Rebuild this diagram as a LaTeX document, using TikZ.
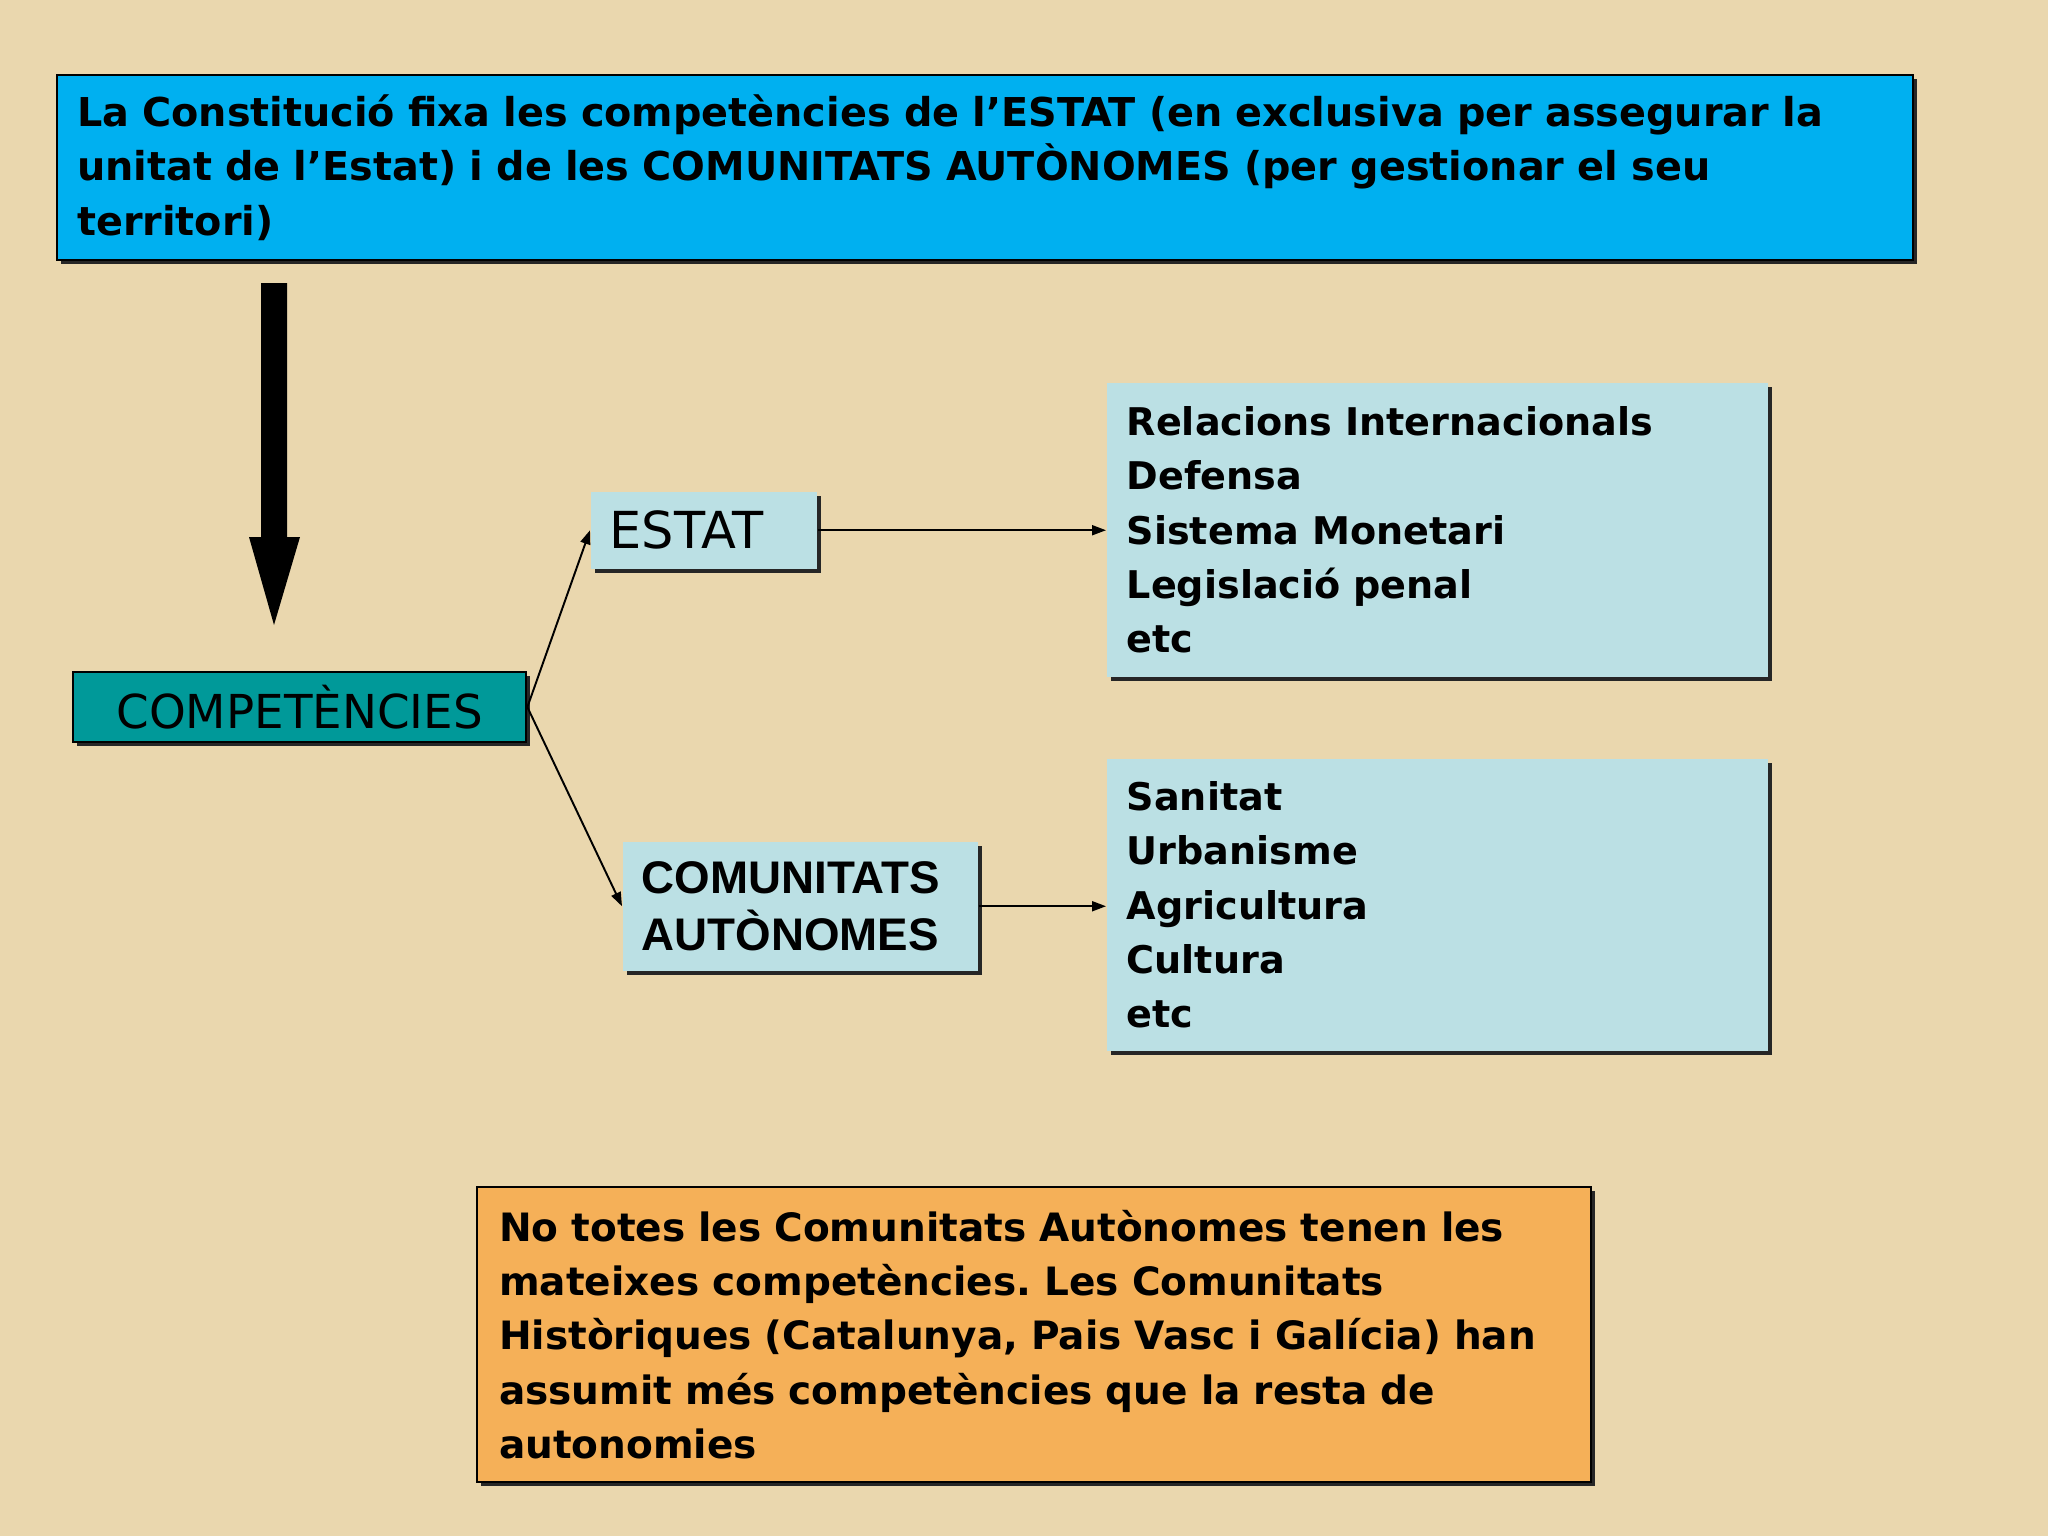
\documentclass[tikz,border=0pt]{standalone}
\usepackage{fontspec}
\setmainfont{DejaVu Sans}
\newfontfamily\arialfont{Liberation Sans}
\usetikzlibrary{arrows.meta,shadows}
\frenchspacing
\definecolor{bg}{RGB}{234,215,174}
\definecolor{topblue}{RGB}{0,176,240}
\definecolor{teal}{RGB}{0,153,153}
\definecolor{lblue}{RGB}{187,224,228}
\definecolor{orangebox}{RGB}{245,176,88}
\tikzset{
  shadowed/.style={drop shadow={shadow xshift=0.04cm, shadow yshift=-0.04cm, fill=black!85, opacity=1}},
  topbox/.style={shadowed, draw=black, line width=0.6pt, fill=topblue, anchor=north west,
    inner xsep=0.2cm, inner ysep=0pt, align=left,
    font=\bfseries\fontsize{11.3}{15.4}\selectfont},
  compbox/.style={shadowed, draw=black, line width=0.6pt, fill=teal, anchor=north west,
    inner sep=0pt, align=center, font=\fontsize{13.3}{15}\selectfont},
  listbox/.style={shadowed, fill=lblue, anchor=north west,
    inner xsep=0.2cm, inner ysep=0pt, align=left,
    font=\bfseries\fontsize{10.85}{15.4}\selectfont},
  labelbox/.style={shadowed, fill=lblue, anchor=north west,
    inner xsep=0.19cm, inner ysep=0pt, align=left},
  notebox/.style={shadowed, draw=black, line width=0.6pt, fill=orangebox, anchor=north west,
    inner xsep=0.22cm, inner ysep=0pt, align=left,
    font=\bfseries\fontsize{11.1}{15.4}\selectfont},
  conn/.style={draw=black, line width=0.55pt, -{Triangle[length=0.14cm,width=0.1cm]}}
}
\begin{document}
\begin{tikzpicture}[x=0.01cm,y=-0.01cm]
\useasboundingbox (0,0) rectangle (2048,1536);
\fill[bg] (0,0) rectangle (2048,1536);

\node[topbox, minimum width=18.55cm, minimum height=1.85cm, text width=18.15cm] (top) at (56,74)
 {\rule{0pt}{0.1cm}La Constitució fixa les competències de l’ESTAT (en exclusiva per assegurar la\\
  unitat de l’Estat) i de les COMUNITATS AUTÒNOMES (per gestionar el seu\\
  territori)};

\fill[black] (261,283) -- (287,283) -- (287,537) -- (300,537) -- (274,625) -- (249,537) -- (261,537) -- cycle;

\node[compbox, minimum width=4.53cm, minimum height=0.70cm] (comp) at (72,671) {COMPETÈNCIES};

\node[labelbox, minimum width=2.26cm, minimum height=0.77cm, text width=1.88cm,
      font=\fontsize{14.5}{16}\selectfont] (estat) at (590,491) {ESTAT};

\node[labelbox, minimum width=3.55cm, minimum height=1.29cm, text width=3.17cm,
      font=\arialfont\bfseries\fontsize{13}{16}\selectfont] (ccaa) at (622,841)
 {COMUNITATS\\AUTÒNOMES};

\node[listbox, minimum width=6.61cm, minimum height=2.94cm, text width=6.21cm] (box1) at (1106,382)
 {Relacions Internacionals\\Defensa\\Sistema Monetari\\Legislació penal\\etc};

\node[listbox, minimum width=6.61cm, minimum height=2.92cm, text width=6.21cm] (box2) at (1106,758)
 {Sanitat\\Urbanisme\\Agricultura\\Cultura\\etc};

\node[notebox, minimum width=11.13cm, minimum height=2.95cm, text width=10.69cm] (note) at (476,1186)
 {No totes les Comunitats Autònomes tenen les\\
  mateixes competències. Les Comunitats\\
  Històriques (Catalunya, Pais Vasc i Galícia) han\\
  assumit més competències que la resta de\\
  autonomies};

\draw[conn] (comp.east) -- (estat.west);
\draw[conn] (comp.east) -- (ccaa.west);
\draw[conn] (estat.east) -- (estat.east -| box1.west);
\draw[conn] (ccaa.east) -- (ccaa.east -| box2.west);
\end{tikzpicture}
\end{document}
